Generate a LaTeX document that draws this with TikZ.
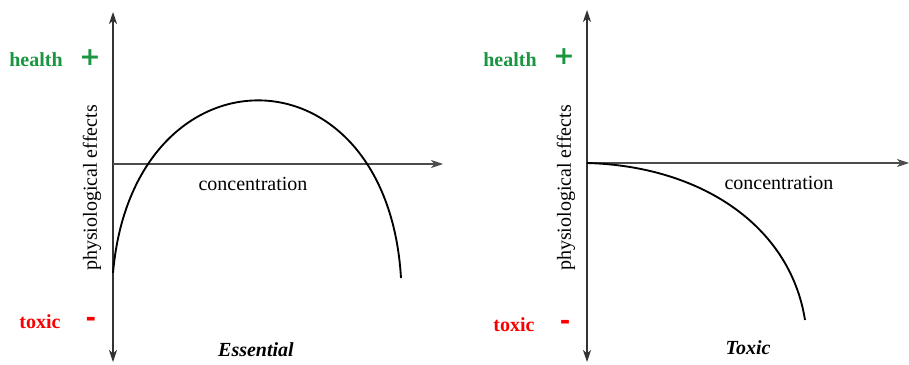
\documentclass[tikz,border=0pt]{standalone}
\usepackage{fontspec}
\setmainfont{Liberation Serif}
\newfontfamily\signfont{DejaVu Sans}
\usepackage{tikz}
\usetikzlibrary{arrows.meta,positioning}

\definecolor{healthgreen}{RGB}{26,150,65}
\definecolor{toxicred}{RGB}{250,0,0}

\begin{document}
\begin{tikzpicture}[
  x=0.75pt,y=-0.75pt,
  every node/.style={font=\fontsize{15}{18}\selectfont,inner sep=1pt},
  yaxis/.style={{Stealth[length=9pt,width=6pt,inset=2.5pt]}-{Stealth[length=9pt,width=6pt,inset=2.5pt]},black!80,line width=0.8pt},
  xaxis/.style={-{Stealth[length=9pt,width=6pt,inset=2.5pt]},black!70,line width=0.8pt},
  effect/.style={black,line width=1.4pt},
  good/.style={text=healthgreen,font=\fontsize{15}{18}\selectfont\bfseries},
  bad/.style={text=toxicred,font=\fontsize{15}{18}\selectfont\bfseries},
  sign/.style={font=\signfont\fontsize{19}{20}\selectfont\bfseries},
  caption/.style={font=\fontsize{15}{18}\selectfont\bfseries\itshape}
]
  \useasboundingbox (0,0) rectangle (909,364);

  % essential element
  \coordinate (etop) at (113,12);
  \coordinate (ebot) at (113,362);
  \coordinate (eorig) at (113,164);
  \coordinate (eend) at (443,164);
  \coordinate (estart) at (113,273);
  \coordinate (estop) at (401,278);
  \draw[yaxis] (etop) -- (ebot);
  \draw[xaxis] (eorig) -- (eend);
  \draw[effect] (estart) .. controls (133,42) and (387,42) .. (estop);

  \node[good] (ehealth) at (36,60) {health};
  \node[sign,text=healthgreen] (eplus) at (90,58) {+};
  \node[bad] (etoxic) at (40,322) {toxic};
  \node[sign,text=toxicred] (eminus) at (91,322) {-};
  \node[rotate=90] (eylab) at (92,188) {physiological effects};
  \node (exlab) at (253,184) {concentration};
  \node[caption] (ecap) at (256,350) {Essential};

  % toxic element
  \coordinate (ttop) at (587,10);
  \coordinate (tbot) at (587,362);
  \coordinate (torig) at (587,163);
  \coordinate (tend) at (909,163);
  \coordinate (tstop) at (805,320);
  \draw[yaxis] (ttop) -- (tbot);
  \draw[xaxis] (torig) -- (tend);
  \draw[effect] (torig) .. controls (700,166) and (790,225) .. (tstop);

  \node[good] (thealth) at (510,60) {health};
  \node[sign,text=healthgreen] (tplus) at (564,57) {+};
  \node[bad] (ttoxic) at (514,325) {toxic};
  \node[sign,text=toxicred] (tminus) at (565,325) {-};
  \node[rotate=90] (tylab) at (566,188) {physiological effects};
  \node (txlab) at (779,183) {concentration};
  \node[caption] (tcap) at (748,348) {Toxic};
\end{tikzpicture}
\end{document}
